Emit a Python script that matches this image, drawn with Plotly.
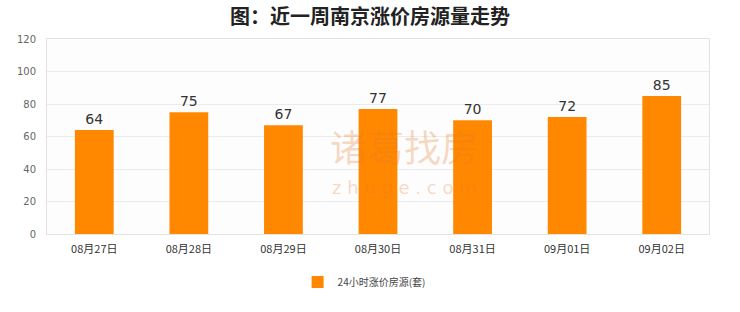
import plotly.graph_objects as go

# 近一周南京涨价房源量
dates = ["08月27日", "08月28日", "08月29日", "08月30日", "08月31日", "09月01日", "09月02日"]
counts = [64, 75, 67, 77, 70, 72, 85]
y_ticks = [0, 20, 40, 60, 80, 100, 120]

series_name = "24小时涨价房源(套)"
title_text = "图：近一周南京涨价房源量走势"
watermark_cn = "诸葛找房"
watermark_en = "z h u g e . c o m"

BAR_COLOR = "#FF8800"
CJK = "Noto Sans CJK SC"

fig = go.Figure()
fig.add_trace(go.Bar(
    x=dates,
    y=counts,
    name=series_name,
    marker=dict(color=BAR_COLOR, line=dict(width=0)),
    text=[str(v) for v in counts],
    textposition="outside",
    textfont=dict(family="DejaVu Sans", size=14, color="#333333"),
    cliponaxis=False,
    showlegend=True,
))

# faint site watermark across the middle of the plot
wm_color = "rgba(230,120,40,0.28)"
fig.add_annotation(text=watermark_cn, xref="paper", yref="paper", x=0.54, y=0.45,
                   xanchor="center", yanchor="middle", showarrow=False,
                   font=dict(family=CJK, size=37, color=wm_color))
fig.add_annotation(text=watermark_en, xref="paper", yref="paper", x=0.54, y=0.24,
                   xanchor="center", yanchor="middle", showarrow=False,
                   font=dict(family="DejaVu Sans", size=18, color=wm_color))

fig.update_layout(
    width=740,
    height=312,
    margin=dict(l=47, r=31, t=39, b=78),
    paper_bgcolor="#FFFFFF",
    plot_bgcolor="#FDFDFD",
    bargap=0.59,
    title=dict(text=title_text, x=0.5, xanchor="center", y=0.947, yanchor="middle",
               font=dict(family=CJK, size=20, color="#222222", weight="bold")),
    legend=dict(orientation="h", x=0.479, xanchor="center", y=-0.246, yanchor="middle",
                font=dict(family=CJK, size=10, color="#444444"),
                itemwidth=30, bgcolor="rgba(0,0,0,0)"),
    xaxis=dict(
        showline=True, linecolor="#E2E2E2", linewidth=1, mirror=True,
        ticks="", ticklabelstandoff=5,
        tickfont=dict(family=CJK, size=11, color="#333333"),
        fixedrange=True,
    ),
    yaxis=dict(
        range=[0, 120], tickvals=y_ticks,
        showgrid=True, gridcolor="#EBEBEB", gridwidth=1,
        showline=True, linecolor="#E2E2E2", linewidth=1, mirror=True,
        zeroline=False,
        ticks="", ticklabelstandoff=8,
        tickfont=dict(family="DejaVu Sans", size=10, color="#666666"),
    ),
)

fig.write_html("out.html")
